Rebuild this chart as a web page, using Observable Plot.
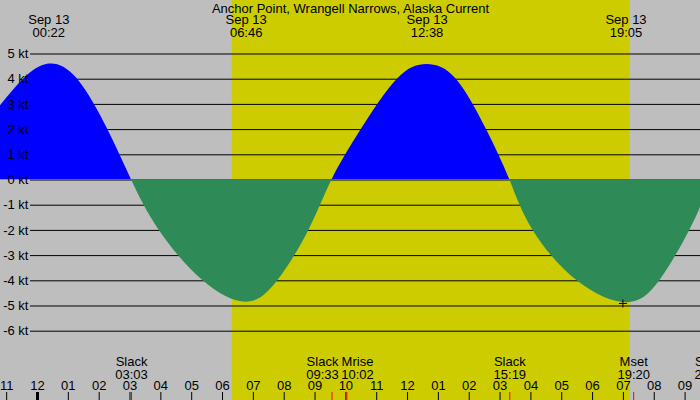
<!DOCTYPE html>
<html><head><meta charset="utf-8">
<script src="https://cdn.jsdelivr.net/npm/d3@7"></script>
<script src="https://cdn.jsdelivr.net/npm/@observablehq/plot@0.6"></script>
<style>html,body{margin:0;padding:0;background:#bebebe} svg{display:block}</style>
</head><body><div id="chart"></div>
<script>
const title = "Anchor Point, Wrangell Narrows, Alaska Current";
const dateLabel = "Sep 13";
// current curve: hours after midnight, knots
const curveHours = [-1.20,-0.45,0.367,1.30,2.28,3.05,3.95,5.37,6.767,7.79,8.80,9.55,10.50,11.67,12.633,13.58,14.56,15.317,16.07,17.50,19.083,20.18,21.15,21.50];
const curveKnots = [2.95,4.0,4.6,4.0,2.0,0,-2,-4,-4.85,-4.0,-2,0,2,4.0,4.58,4.0,2.0,0,-2,-4,-4.87,-4.0,-2,-1.08];
const extremeTimes = ["00:22","06:46","12:38","19:05"];
const eventNames = ["Slack","Slack","Mrise","Slack","Mset","Slack"];
const eventTimes = ["03:03","09:33","10:02","15:19","19:20","21:50"];
const hourTicks = [-1,0,1,2,3,4,5,6,7,8,9,10,11,12,13,14,15,16,17,18,19,20,21];
const hourLabels = ["11","12","01","02","03","04","05","06","07","08","09","10","11","12","01","02","03","04","05","06","07","08","09"];
const ktTicks = [5,4,3,2,1,0,-1,-2,-3,-4,-5,-6];
const daylight = ["06:19","19:13"];
const markerTime = "18:59";
const markerKnots = -4.9;

const toH = s => { const [a,b] = s.split(":").map(Number); return a + b/60; };
const curve = curveHours.map((h,i) => ({h, v: curveKnots[i]}));
const events = eventNames.map((name,i) => ({name, time: eventTimes[i], h: toH(eventTimes[i])}));
const hours = hourTicks.map((h,i) => ({h, label: hourLabels[i]}));

const W = 700, H = 400;
const xDomain = [-1.2, 21.5];
const yDomain = [-8.75, 7.123];
const xAt = px => xDomain[0] + px / W * (xDomain[1] - xDomain[0]);
const yAt = px => yDomain[1] - px / H * (yDomain[1] - yDomain[0]);

const plusSym = {draw(ctx, size){ const r = Math.sqrt(size/Math.PI); ctx.moveTo(-r,0); ctx.lineTo(r,0); ctx.moveTo(0,-r); ctx.lineTo(0,r);} };

const FONT = "Liberation Sans, Arial, sans-serif";
const font = {fontFamily: FONT, fontSize: 13, fill: "black"};
const nudge = {"09:33": -9.5, "10:02": 10.6};

const plot = Plot.plot({
  width: W, height: H, margin: 0,
  x: {domain: xDomain, axis: null},
  y: {domain: yDomain, axis: null},
  style: {background: "#bebebe", fontFamily: FONT, fontSize: "13px", color: "black"},
  marks: [
    Plot.rect([daylight], {x1: d => toH(d[0]), x2: d => toH(d[1]), fill: "#cccc00"}),
    Plot.ruleY(ktTicks, {y: d => d, x1: xAt(30), x2: xDomain[1], stroke: "black", strokeWidth: 1}),
    Plot.areaY(curve, {x: "h", y: "v", curve: "natural", fill: "url(#flowgrad)"}),
    Plot.text(ktTicks, {y: d => d, text: d => `${d} kt`, frameAnchor: "left", textAnchor: "end", dx: 28, ...font}),
    Plot.text([title], {text: d => d, frameAnchor: "top", lineAnchor: "middle", dy: 8, ...font}),
    Plot.text(extremeTimes, {x: toH, text: d => `${dateLabel}\n${d}`, frameAnchor: "top", lineAnchor: "middle", dy: 26, lineHeight: 0.95, ...font}),
    Plot.text(events.filter(e => !(e.time in nudge)), {x: "h", text: d => `${d.name}\n${d.time}`, frameAnchor: "bottom", lineAnchor: "middle", dy: -32.5, lineHeight: 1.0, ...font}),
    ...Object.keys(nudge).map(t => Plot.text(events.filter(e => e.time === t), {x: "h", text: d => `${d.name}\n${d.time}`, frameAnchor: "bottom", lineAnchor: "middle", dy: -32.5, dx: nudge[t], lineHeight: 1.0, ...font})),
    Plot.text(hours, {x: "h", text: "label", frameAnchor: "bottom", lineAnchor: "middle", dy: -14.5, ...font}),
    Plot.ruleX(hours, {x: "h", y1: yAt(392), y2: yAt(400), stroke: "black", strokeWidth: d => d.h === 0 ? 3 : 1}),
    Plot.ruleX(events, {x: "h", y1: yAt(392), y2: yAt(400), stroke: "red", strokeWidth: 1}),
    Plot.dot([{h: toH(markerTime), v: markerKnots}], {x: "h", y: "v", symbol: plusSym, r: 4, stroke: "black", fill: "none", strokeWidth: 1})
  ]
});

const y0 = plot.scale("y").apply(0);
const ns = "http://www.w3.org/2000/svg";
const defs = document.createElementNS(ns, "defs");
const grad = document.createElementNS(ns, "linearGradient");
grad.setAttribute("id", "flowgrad");
grad.setAttribute("gradientUnits", "userSpaceOnUse");
grad.setAttribute("x1", 0); grad.setAttribute("y1", 0);
grad.setAttribute("x2", 0); grad.setAttribute("y2", H);
["#0000ff", "#2e8b57"].forEach(c => {
  const s = document.createElementNS(ns, "stop");
  s.setAttribute("offset", y0 / H);
  s.setAttribute("stop-color", c);
  grad.appendChild(s);
});
defs.appendChild(grad);
plot.insertBefore(defs, plot.firstChild);
document.getElementById("chart").appendChild(plot);
</script>
</body></html>
